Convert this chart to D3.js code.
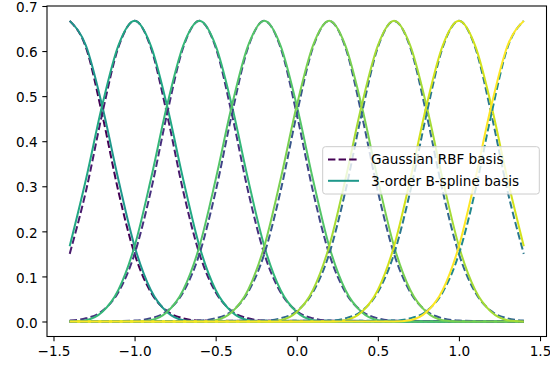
<!DOCTYPE html>
<html>
<head>
<meta charset="utf-8">
<script src="https://cdn.jsdelivr.net/npm/d3@7"></script>
<style>
  body { margin: 0; background: #fff; }
  text { font-family: "DejaVu Sans", sans-serif; font-size: 13.6px; fill: #000; }
</style>
</head>
<body>
<svg id="chart" width="550" height="368"></svg>
<script>
// basis centres
var centers = [-1.4, -1.0, -0.6, -0.2, 0.2, 0.6, 1.0, 1.4];

// one bump, sampled at offsets from its centre
var offsets = [-0.8, -0.7, -0.6, -0.5, -0.4, -0.3, -0.2, -0.1, 0, 0.1, 0.2, 0.3, 0.4, 0.5, 0.6, 0.7, 0.8];
var splineShape = [0, 0.003, 0.021, 0.070, 0.167, 0.315, 0.479, 0.612, 0.667, 0.612, 0.479, 0.315, 0.167, 0.070, 0.021, 0.003, 0];
var rbfShape = [0.002, 0.007, 0.023, 0.065, 0.150, 0.289, 0.460, 0.608, 0.667, 0.608, 0.460, 0.289, 0.150, 0.065, 0.023, 0.007, 0.002];

var xTicks = [-1.5, -1.0, -0.5, 0.0, 0.5, 1.0, 1.5];
var yTicks = [0.0, 0.1, 0.2, 0.3, 0.4, 0.5, 0.6, 0.7];
var labels = ["Gaussian RBF basis", "3-order B-spline basis"];

var xMin = -1.4, xMax = 1.4;

var margin = {left: 47, right: 3.5, top: 6, bottom: 31.5};
var width = 550, height = 368;

var svg = d3.select("#chart");

var x = d3.scaleLinear()
    .domain([xMin - 0.14, xMax + 0.14])
    .range([margin.left, width - margin.right]);

var y = d3.scaleLinear()
    .domain([-0.0333, 0.7])
    .range([height - margin.bottom, margin.top]);

var n = centers.length;
var rbfColor = i => d3.interpolateViridis(i / (2 * n - 1));
var splineColor = i => d3.interpolateViridis((i + n) / (2 * n - 1));

function curvePoints(c, shape) {
  var pts = [];
  if (c + offsets[0] > xMin) pts.push([xMin, 0]);
  offsets.forEach((o, k) => {
    var px = +(c + o).toFixed(3);
    if (px >= xMin - 1e-9 && px <= xMax + 1e-9) pts.push([px, shape[k]]);
  });
  if (c + offsets[offsets.length - 1] < xMax) pts.push([xMax, 0]);
  return pts;
}

var line = d3.line()
    .x(d => x(d[0]))
    .y(d => y(d[1]))
    .curve(d3.curveMonotoneX);

var plot = svg.append("g");

centers.forEach((c, i) => {
  plot.append("path")
      .attr("d", line(curvePoints(c, rbfShape)))
      .attr("fill", "none")
      .attr("stroke", rbfColor(i))
      .attr("stroke-width", 2)
      .attr("stroke-dasharray", "7.4,3.2");

  plot.append("path")
      .attr("d", line(curvePoints(c, splineShape)))
      .attr("fill", "none")
      .attr("stroke", splineColor(i))
      .attr("stroke-width", 2);
});

// spines
svg.append("rect")
    .attr("x", margin.left)
    .attr("y", margin.top)
    .attr("width", width - margin.left - margin.right)
    .attr("height", height - margin.top - margin.bottom)
    .attr("fill", "none")
    .attr("stroke", "#000")
    .attr("stroke-width", 1.07);

var xAxis = svg.append("g")
    .attr("transform", "translate(0," + (height - margin.bottom) + ")")
    .call(d3.axisBottom(x).tickValues(xTicks).tickFormat(d3.format(".1f")).tickSizeOuter(0).tickSize(4.7).tickPadding(4.7));

var yAxis = svg.append("g")
    .attr("transform", "translate(" + margin.left + ",0)")
    .call(d3.axisLeft(y).tickValues(yTicks).tickFormat(d3.format(".1f")).tickSizeOuter(0).tickSize(4.7).tickPadding(4.7));

[xAxis, yAxis].forEach(g => {
  g.select(".domain").remove();
  g.selectAll("line").attr("stroke-width", 1.07);
  g.selectAll("text")
      .attr("font-family", "DejaVu Sans, sans-serif")
      .attr("font-size", 13.6);
});
yAxis.selectAll("text").attr("dy", "0.42em");

// legend, centre right
var legend = svg.append("g");
legend.append("rect")
    .attr("x", 322.7)
    .attr("y", 146.7)
    .attr("width", 216.6)
    .attr("height", 47.3)
    .attr("rx", 2.7)
    .attr("fill", "#fff")
    .attr("fill-opacity", 0.8)
    .attr("stroke", "#cccccc")
    .attr("stroke-width", 1);

labels.forEach((lab, i) => {
  var ly = 159.5 + i * 21.3;
  legend.append("line")
      .attr("x1", 328).attr("x2", 359)
      .attr("y1", ly).attr("y2", ly)
      .attr("stroke", i == 0 ? rbfColor(0) : splineColor(0))
      .attr("stroke-width", 2)
      .attr("stroke-dasharray", i == 0 ? "7.4,3.2" : null);
  legend.append("text")
      .attr("x", 371)
      .attr("y", ly)
      .attr("dy", "0.36em")
      .text(lab);
});
</script>
</body>
</html>
